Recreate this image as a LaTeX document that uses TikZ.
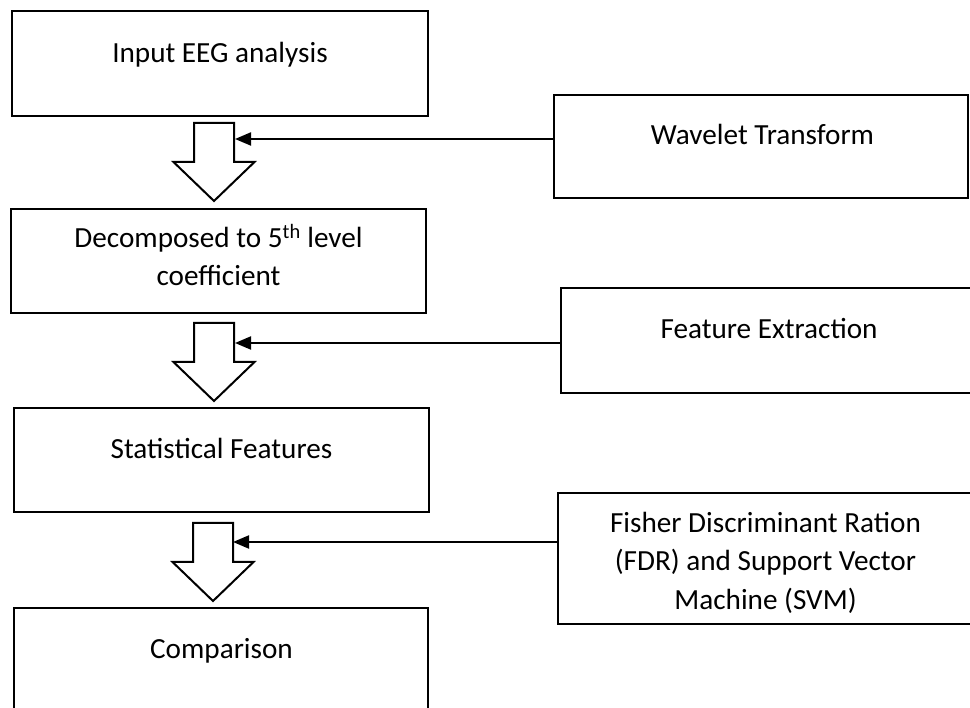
\documentclass[tikz,border=0pt]{standalone}
\usepackage{fontspec}
\setmainfont{Carlito}
\usetikzlibrary{arrows.meta}
\begin{document}
\begin{tikzpicture}[x=1pt,y=-1pt,
  box/.style={draw, line width=2.2pt, inner sep=0pt},
  lbl/.style={font=\fontsize{29.2pt}{38.5pt}\selectfont, align=center, anchor=base, inner sep=0pt},
  conn/.style={line width=2pt, -{Triangle[length=16pt,width=13pt]}},
  hollowdown/.pic={
    \draw[line width=2pt, line join=miter, fill=white]
      (-20,0) -- (20,0) -- (20,39) -- (40.5,39) -- (0,78) -- (-40.5,39) -- (-20,39) -- cycle;
  }
]
\useasboundingbox (0,0) rectangle (970,708);
\clip (0,0) rectangle (970,708);

% main column of process boxes
\node[box, minimum width=416pt, minimum height=105pt] (b1) at (220,63.5) {};
\node[box, minimum width=415pt, minimum height=104pt] (b2) at (218.5,261) {};
\node[box, minimum width=415pt, minimum height=104pt] (b3) at (221.5,460) {};
\node[box, minimum width=414pt, minimum height=104pt] (b4) at (221,660) {};

% labels are placed by the baseline of their last line
\node[lbl] (t1) at (220,63) {Input EEG analysis};
\node[lbl] (t2) at (218.5,286) {Decomposed to 5\textsuperscript{th} level\\coefficient};
\node[lbl] (t3) at (221.5,459) {Statistical Features};
\node[lbl] (t4) at (221.5,658) {Comparison};

% side boxes with the methods applied at each step
\node[box, minimum width=414pt, minimum height=103pt] (w) at (761,146.5) {};
\node[box, minimum width=415pt, minimum height=105pt] (f) at (768.5,340.5) {};
\node[box, minimum width=415pt, minimum height=131pt] (r) at (765.5,558.5) {};

\node[lbl] (tw) at (762.5,145) {Wavelet Transform};
\node[lbl] (tf) at (769,339) {Feature Extraction};
\node[lbl] (tr) at (765.5,609) {Fisher Discriminant Ration\\(FDR) and Support Vector\\Machine (SVM)};

% hollow down arrows between the steps
\pic at (214,123) {hollowdown};
\pic at (214,323) {hollowdown};
\pic at (213,523) {hollowdown};

% points on the arrow shafts where the side connectors end
\coordinate (e1) at (235,139);
\coordinate (e2) at (235,343);
\coordinate (e3) at (233,542);

\draw[conn] (e1 -| w.west) -- (e1);
\draw[conn] (e2 -| f.west) -- (e2);
\draw[conn] (e3 -| r.west) -- (e3);
\end{tikzpicture}
\end{document}
